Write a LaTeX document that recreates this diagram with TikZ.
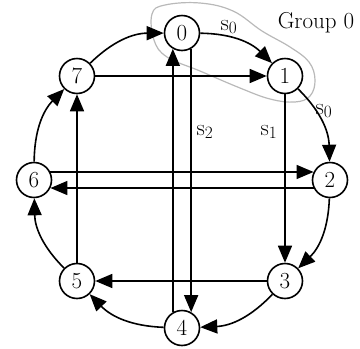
\documentclass[tikz,border=0pt]{standalone}
\usetikzlibrary{arrows.meta}
\begin{document}
\begin{tikzpicture}[x=1pt,y=-1pt,
  nd/.style={circle,draw,line width=1.6pt,minimum size=35pt,inner sep=0pt,font=\fontsize{23}{27}\selectfont},
  arr/.style={line width=1.6pt,-{Triangle[length=17pt,width=14pt]}},
  lbl/.style={font=\fontsize{23}{27}\selectfont,inner sep=0pt}]
\useasboundingbox (0,0) rectangle (360,349);
\draw[gray!55,line width=1.2pt] plot[smooth cycle,tension=0.65] coordinates
  {(152,14) (165,5) (200,3) (233,11) (262,31) (290,47) (309,62) (315,80) (310,96) (295,102) (270,99) (240,88) (200,71) (167,57) (154,40)};
\node[nd] (n0) at (182,33) {0};
\node[nd] (n1) at (285,76) {1};
\node[nd] (n2) at (330,180) {2};
\node[nd] (n3) at (285,281) {3};
\node[nd] (n4) at (182,328) {4};
\node[nd] (n5) at (77,281) {5};
\node[nd] (n6) at (34,180) {6};
\node[nd] (n7) at (77,76) {7};
% ring
\draw[arr] (n0) to[bend left=22] (n1);
\draw[arr] (n1) to[bend left=22] (n2);
\draw[arr] (n2) to[bend left=22] (n3);
\draw[arr] (n3) to[bend left=22] (n4);
\draw[arr] (n4) to[bend left=22] (n5);
\draw[arr] (n5) to[bend left=22] (n6);
\draw[arr] (n6) to[bend left=22] (n7);
\draw[arr] (n7) to[bend left=22] (n0);
% chords
\draw[arr] (n7) -- (n1);
\draw[arr] (n1) -- (n3);
\draw[arr] (n3) -- (n5);
\draw[arr] (n5) -- (n7);
\draw[arr] (n6.26) -- (n2.154);
\draw[arr] (n2.206) -- (n6.334);
\draw[arr] (n4.120) -- (n0.240);
\draw[arr] (n0.300) -- (n4.60);
% labels
\node[lbl] (l0) at (229,27) {s$_0$};
\node[lbl] (l1) at (324,111) {s$_0$};
\node[lbl] (l2) at (205,132) {s$_2$};
\node[lbl] (l3) at (269,132) {s$_1$};
\node[lbl] (g0) at (316,23) {Group 0};
\end{tikzpicture}
\end{document}
